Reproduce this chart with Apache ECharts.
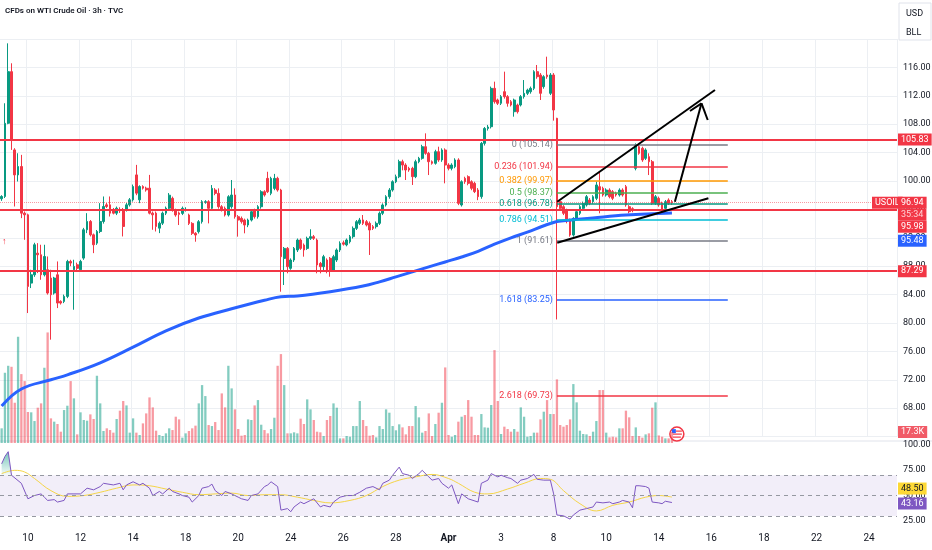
<!DOCTYPE html>
<html>
<head>
<meta charset="utf-8">
<title>USOIL 3h</title>
<script src="https://cdn.jsdelivr.net/npm/echarts@6.0.0/dist/echarts.min.js"></script>
<style>
  html, body { margin: 0; padding: 0; background: #fff; }
  #chart { width: 932px; height: 550px; }
</style>
</head>
<body>
<div id="chart"></div>
<script>
// 横轴：每根K线一个位置，刻度标签所在位置
var slotCount = 273;
var tickIdx = [8, 24, 40, 56, 72, 88, 104, 120, 136, 152, 168, 184, 200, 216, 232, 248, 264];
var tickText = ['10', '12', '14', '18', '20', '24', '26', '28', 'Apr', '3', '8', '10', '14', '16', '18', '22', '24'];

// K线 [open, close, low, high]
var candles = [
  [97.5, 97.82, 97.2, 98.0], [97.82, 108.13, 97.6, 110.95], [108.13, 115.4, 108.0, 119.39], [115.4, 105.79, 104.38, 116.58],
  [104.38, 100.86, 96.41, 104.62], [100.86, 102.04, 99.93, 103.91], [102.04, 95.47, 94.77, 103.68], [95.47, 95.24, 91.72, 95.71],
  [95.24, 85.15, 81.4, 95.4], [85.62, 86.79, 84.92, 87.5], [86.79, 91.02, 86.5, 91.3], [89.84, 89.61, 87.03, 91.25],
  [89.61, 86.79, 86.09, 91.02], [86.79, 89.37, 86.56, 91.02], [87.5, 84.22, 84.0, 89.37], [86.33, 83.98, 77.65, 87.5],
  [84.22, 86.33, 84.0, 86.5], [86.79, 82.81, 82.1, 88.67], [83.04, 82.81, 82.6, 83.2], [83.04, 83.75, 82.8, 84.0],
  [83.75, 88.67, 83.5, 88.9], [88.67, 88.44, 88.0, 88.9], [87.5, 87.97, 81.87, 88.91], [88.2, 87.7, 87.4, 88.5],
  [87.5, 88.67, 87.3, 88.9], [89.14, 93.13, 88.9, 93.4], [93.13, 94.3, 92.66, 95.47], [94.3, 92.42, 92.19, 94.5],
  [92.42, 91.02, 89.84, 92.6], [91.25, 92.89, 91.0, 93.1], [92.89, 94.3, 92.66, 96.88], [94.3, 96.41, 94.0, 97.82],
  [96.64, 96.41, 96.2, 96.9], [96.64, 95.47, 95.0, 97.82], [95.94, 95.47, 95.3, 96.2], [95.47, 96.17, 95.2, 96.4],
  [96.0, 95.8, 95.5, 96.3], [95.94, 93.6, 92.19, 96.2], [95.94, 96.64, 95.7, 96.9], [96.64, 97.35, 96.4, 97.6],
  [97.35, 99.22, 97.1, 99.5], [100.86, 98.29, 98.0, 102.27], [97.35, 99.22, 96.88, 99.4], [99.22, 98.99, 98.8, 99.4],
  [98.99, 98.75, 98.5, 99.2], [98.99, 95.47, 95.3, 100.86], [95.47, 95.24, 93.13, 95.7], [95.47, 93.6, 92.89, 95.7],
  [93.36, 94.06, 92.66, 94.3], [94.06, 95.47, 93.8, 95.7], [95.47, 96.17, 95.2, 96.4], [96.17, 98.0, 95.9, 98.3],
  [97.56, 95.91, 95.68, 97.8], [95.91, 95.21, 94.97, 96.1], [95.5, 95.3, 93.8, 95.7], [95.44, 96.15, 95.2, 96.4],
  [95.9, 96.0, 95.7, 96.3], [95.21, 94.03, 93.8, 95.4], [94.03, 92.63, 92.4, 94.2], [92.63, 92.39, 91.45, 92.8],
  [92.86, 94.27, 92.6, 94.5], [94.27, 97.09, 94.0, 97.3], [97.0, 97.09, 96.8, 97.3], [97.09, 96.15, 94.03, 97.3],
  [96.15, 98.96, 95.9, 99.43], [98.73, 98.26, 98.0, 99.0], [98.26, 96.38, 96.1, 98.96], [96.38, 95.91, 95.7, 96.6],
  [96.15, 95.21, 95.0, 96.4], [95.21, 97.79, 95.0, 98.0], [96.38, 98.03, 96.1, 100.14], [98.03, 94.97, 94.7, 98.96],
  [94.97, 94.5, 92.16, 95.2], [94.74, 94.27, 94.0, 95.0], [94.5, 93.8, 92.63, 94.7], [93.8, 94.5, 93.5, 94.7],
  [94.5, 95.68, 94.3, 95.9], [95.91, 94.97, 94.7, 96.1], [94.97, 96.38, 94.7, 96.6], [96.38, 98.49, 96.1, 98.7],
  [98.49, 98.03, 97.8, 98.7], [100.37, 98.49, 98.3, 101.3], [98.26, 100.37, 98.0, 100.6], [98.96, 100.37, 98.7, 101.0],
  [100.37, 98.73, 98.5, 100.6], [98.73, 89.34, 84.41, 98.9], [89.1, 90.51, 85.35, 90.7], [90.51, 87.93, 87.0, 90.7],
  [87.7, 88.87, 87.5, 89.1], [88.87, 90.51, 88.6, 90.7], [90.28, 91.69, 90.0, 91.9], [91.69, 90.51, 90.3, 91.9],
  [90.98, 90.28, 89.34, 91.2], [90.51, 91.92, 90.3, 92.16], [91.92, 92.16, 91.7, 93.2], [92.16, 91.92, 91.7, 92.4],
  [91.69, 88.17, 87.0, 91.9], [88.4, 87.93, 87.0, 88.6], [87.93, 89.34, 87.2, 89.6], [88.87, 87.46, 87.0, 89.1],
  [89.11, 87.46, 86.52, 89.3], [87.46, 89.34, 87.2, 89.6], [88.87, 90.28, 88.6, 90.5], [90.28, 91.22, 90.0, 91.5],
  [91.3, 91.1, 90.9, 91.6], [91.0, 91.69, 90.8, 91.9], [91.45, 92.16, 91.2, 92.4], [92.16, 93.33, 91.9, 93.6],
  [93.33, 94.27, 93.1, 94.5], [94.04, 94.51, 93.8, 94.8], [94.51, 94.04, 93.8, 95.21], [94.27, 93.8, 93.6, 94.5],
  [94.04, 93.1, 89.58, 94.3], [93.57, 93.33, 93.1, 93.8], [93.57, 94.04, 93.3, 94.3], [94.04, 95.45, 93.8, 95.7],
  [95.45, 96.62, 95.2, 96.85], [96.62, 97.79, 96.4, 98.0], [97.79, 98.73, 97.5, 99.0], [98.73, 99.9, 98.5, 100.1],
  [99.9, 100.6, 99.7, 100.9], [100.6, 102.72, 100.4, 103.0], [102.72, 102.25, 101.5, 103.0], [102.25, 101.55, 100.14, 102.5],
  [101.78, 101.55, 101.3, 102.0], [101.78, 100.61, 99.44, 102.0], [100.61, 102.72, 100.4, 103.0], [102.72, 103.19, 102.5, 103.4],
  [103.19, 104.83, 103.0, 105.1], [104.83, 103.9, 103.7, 106.71], [103.9, 102.72, 100.84, 104.1], [102.72, 102.49, 102.3, 102.9],
  [102.49, 104.13, 102.3, 104.4], [104.13, 102.96, 102.7, 104.83], [102.96, 104.37, 102.7, 104.6], [104.37, 102.25, 99.67, 104.6],
  [102.25, 101.78, 101.5, 102.5], [101.78, 102.25, 101.5, 102.5], [102.02, 102.96, 101.8, 103.2], [102.96, 96.85, 96.6, 103.2],
  [96.62, 99.9, 96.4, 100.1], [100.37, 99.9, 99.6, 100.6], [100.61, 99.67, 99.4, 100.8], [99.9, 98.97, 98.7, 100.1],
  [99.67, 98.5, 98.3, 99.9], [98.73, 97.79, 97.3, 99.0], [97.8, 105.3, 97.5, 105.5], [105.3, 107.4, 105.0, 107.6],
  [107.4, 107.6, 107.1, 107.9], [107.65, 113.05, 107.4, 113.3], [113.05, 111.17, 110.9, 113.99], [111.41, 110.94, 110.7, 111.6],
  [110.94, 111.88, 110.7, 112.1], [112.58, 111.88, 111.6, 115.4], [111.88, 110.94, 110.47, 112.1], [111.17, 110.7, 110.5, 111.4],
  [109.76, 111.41, 109.06, 111.6], [110.7, 109.76, 109.5, 110.9], [110.7, 111.88, 110.5, 112.1], [111.88, 112.35, 111.6, 114.22],
  [112.35, 112.8, 112.1, 113.0], [112.58, 113.05, 112.3, 113.3], [113.05, 115.4, 112.8, 115.6], [115.4, 114.69, 114.4, 116.34],
  [114.93, 112.35, 111.41, 115.2], [113.29, 114.69, 113.0, 114.9], [114.93, 114.69, 114.4, 117.51], [112.35, 114.93, 112.1, 115.2],
  [114.93, 110.0, 108.5, 115.2], [108.83, 96.38, 80.5, 108.9], [97.09, 96.15, 95.9, 97.3], [96.38, 95.45, 95.2, 96.6],
  [95.91, 94.51, 94.04, 96.1], [94.51, 92.39, 92.16, 94.7], [92.39, 94.74, 92.16, 94.9], [94.74, 95.68, 94.5, 95.9],
  [95.45, 96.38, 95.2, 96.6], [96.15, 96.85, 95.9, 97.1], [96.62, 97.79, 96.4, 98.03], [97.32, 96.85, 96.6, 97.6],
  [97.09, 97.79, 96.8, 98.0], [97.56, 99.44, 97.3, 99.9], [99.2, 98.73, 95.45, 101.31], [98.97, 98.03, 97.8, 99.2],
  [98.03, 98.73, 97.8, 98.97], [98.73, 97.79, 97.56, 98.97], [98.5, 97.56, 97.3, 98.73], [98.26, 98.03, 97.8, 98.5],
  [98.03, 98.73, 97.8, 98.97], [98.73, 98.03, 97.8, 98.97], [99.2, 96.62, 96.38, 99.44], [96.38, 95.68, 95.45, 96.6],
  [96.1, 95.9, 95.6, 96.3], [101.78, 105.07, 101.5, 105.3], [104.83, 103.9, 103.7, 105.3], [104.6, 102.96, 102.7, 104.83],
  [103.19, 104.37, 102.96, 104.6], [103.43, 102.72, 100.84, 103.9], [102.72, 96.85, 96.62, 102.96], [96.85, 97.79, 96.62, 98.03],
  [97.56, 96.62, 96.38, 97.8], [96.85, 95.91, 95.68, 97.09], [96.15, 97.09, 95.91, 97.32], [97.32, 96.85, 96.62, 97.56],
  [97.09, 96.94, 96.62, 97.32]
];

// 成交量（K）
var volume = [
  23.1, 110.6, 121.6, 120.0, 63.4, 167.3, 108.5, 97.5, 48.8, 48.3,
  34.6, 55.6, 62.4, 118.5, 174.1, 38.8, 33.6, 29.9, 17.8, 51.9,
  58.7, 97.5, 70.3, 13.6, 48.3, 36.2, 35.1, 45.1, 37.8, 105.9,
  62.4, 18.9, 23.1, 20.4, 16.3, 37.8, 50.9, 66.1, 59.2, 16.3,
  38.8, 16.3, 12.6, 30.9, 46.6, 71.8, 56.1, 19.4, 12.6, 11.0,
  15.2, 23.1, 20.4, 41.4, 37.2, 8.4, 15.2, 18.9, 23.1, 27.3,
  62.4, 91.2, 73.9, 28.3, 26.7, 33.0, 20.4, 78.1, 56.1, 121.6,
  86.0, 53.0, 22.0, 11.5, 12.6, 37.2, 36.2, 59.2, 67.6, 28.8,
  20.4, 15.2, 22.0, 39.8, 121.6, 140.0, 91.2, 15.2, 15.2, 16.8,
  15.2, 38.3, 29.9, 68.7, 53.0, 36.2, 17.8, 16.8, 11.0, 36.2,
  42.5, 62.4, 55.6, 7.3, 7.3, 11.0, 9.9, 26.7, 26.7, 66.1,
  36.2, 26.7, 11.5, 12.6, 8.9, 26.7, 22.0, 53.0, 47.7, 26.7,
  20.0, 29.4, 24.6, 13.6, 26.7, 26.7, 58.2, 40.4, 16.3, 18.9,
  46.6, 11.0, 29.9, 47.7, 63.4, 119.0, 12.6, 9.9, 12.6, 33.6,
  41.4, 44.0, 67.6, 41.4, 12.6, 12.6, 45.6, 24.6, 24.1, 59.8,
  146.3, 66.1, 14.2, 25.7, 22.0, 17.8, 22.0, 17.8, 56.1, 41.4,
  9.9, 11.0, 16.3, 16.3, 37.2, 49.3, 67.6, 45.6, 45.6, 100.2,
  28.3, 25.7, 28.3, 37.2, 92.8, 64.0, 19.4, 14.2, 13.6, 11.0,
  17.8, 34.6, 83.4, 83.4, 16.3, 8.9, 9.9, 8.9, 23.1, 23.1,
  50.9, 40.4, 11.0, 24.6, 11.0, 8.4, 13.6, 15.2, 55.6, 64.0,
  11.9, 9.9, 7.3, 7.3, 17.3
];

// 均线 [K线位置, 价格]
var maPts = [
  [0, 68.3], [6, 70.7], [15, 72.0], [20, 72.7], [30, 74.4], [40, 76.6], [50, 78.9], [60, 80.7],
  [70, 82.0], [80, 83.2], [85, 83.7], [90, 83.8], [100, 84.4], [110, 85.2], [115, 85.8], [120, 86.5],
  [125, 87.2], [130, 87.9], [135, 88.6], [140, 89.3], [145, 90.1], [150, 91.1], [155, 92.0], [160, 92.8],
  [165, 93.7], [169, 94.3], [171, 94.4], [180, 94.8], [190, 95.2], [204, 95.48]
];

// RSI [K线位置, 值]
var rsiPts = [
  [0, 81.1], [1, 88.3], [2, 93.0], [3, 69.9], [6, 62.0], [8, 46.8], [10, 50.0], [12, 51.6], [13, 48.4], [14, 45.2],
  [16, 46.0], [17, 43.6], [19, 45.2], [20, 51.6], [22, 51.6], [24, 51.6], [26, 57.2], [28, 55.6], [30, 58.8], [31, 62.0],
  [34, 60.4], [36, 62.0], [37, 55.6], [38, 60.4], [40, 63.5], [42, 60.4], [43, 62.0], [45, 57.2], [46, 50.0], [48, 54.0],
  [49, 51.6], [51, 57.2], [52, 54.0], [54, 51.6], [55, 50.0], [57, 48.4], [58, 43.6], [60, 50.0], [61, 57.2], [63, 58.8],
  [64, 61.2], [65, 54.8], [67, 50.0], [68, 54.0], [70, 51.6], [72, 48.4], [73, 46.8], [75, 45.2], [76, 50.0], [78, 51.6],
  [80, 58.8], [81, 60.4], [82, 63.5], [84, 58.8], [85, 35.7], [87, 37.2], [88, 34.1], [89, 38.8], [91, 43.6], [92, 42.0],
  [94, 45.2], [95, 46.8], [97, 38.8], [98, 40.4], [100, 38.8], [101, 43.6], [103, 48.4], [105, 50.0], [107, 50.0], [109, 53.2],
  [111, 57.2], [113, 58.8], [115, 55.6], [116, 62.0], [118, 65.1], [119, 69.9], [121, 77.9], [122, 71.5], [124, 69.9], [125, 66.7],
  [127, 71.5], [128, 74.7], [130, 68.3], [131, 65.1], [133, 66.7], [134, 62.0], [136, 57.2], [137, 60.4], [139, 42.0], [140, 51.6],
  [142, 46.8], [145, 43.6], [146, 62.0], [148, 65.1], [149, 71.5], [151, 68.3], [152, 69.9], [154, 67.5], [155, 66.7], [157, 62.0],
  [158, 65.1], [160, 66.7], [162, 70.7], [163, 65.9], [165, 65.1], [167, 65.1], [168, 51.6], [169, 30.9], [171, 30.1], [173, 26.9],
  [174, 30.9], [176, 35.7], [178, 37.2], [180, 38.8], [181, 43.6], [183, 42.8], [185, 43.6], [186, 42.0], [188, 43.6], [189, 45.2],
  [191, 43.6], [192, 38.0], [193, 59.6], [194, 59.6], [196, 58.8], [197, 57.2], [198, 43.6], [200, 42.8], [201, 42.0], [202, 44.4],
  [204, 43.16]
];

// RSI 均线
var rsiMaPts = [
  [0, 71.5], [4, 74.7], [7, 73.1], [10, 66.7], [15, 54.8], [20, 49.2], [25, 50.0], [30, 53.2], [35, 57.2], [40, 60.4],
  [45, 59.6], [50, 56.4], [55, 53.2], [60, 50.8], [65, 51.6], [70, 52.4], [75, 50.0], [80, 50.8], [85, 50.8], [90, 48.4],
  [95, 45.2], [100, 42.8], [106, 45.2], [111, 50.0], [116, 58.8], [121, 65.1], [126, 68.3], [131, 70.7], [136, 66.7], [139, 62.0],
  [144, 53.2], [148, 51.6], [154, 56.4], [159, 62.0], [164, 66.7], [167, 65.9], [171, 54.8], [176, 42.0], [181, 34.9], [186, 40.4],
  [191, 43.6], [196, 48.4], [200, 50.0], [204, 48.5]
];

// 水平支撑/阻力线
var levels = [105.83, 95.98, 87.29];
var lastPrice = 96.94;
var lastVolume = 17.3;
var maLast = 95.48;
var rsiLast = 43.16;
var rsiMaLast = 48.50;

// 斐波那契回撤
var fibRatio = [0, 0.236, 0.382, 0.5, 0.618, 0.786, 1, 1.618, 2.618];
var fibPrice = [105.14, 101.94, 99.97, 98.37, 96.78, 94.51, 91.61, 83.25, 69.73];
var fibColor = ['#787b86', '#f23645', '#ff9800', '#4caf50', '#089981', '#00bcd4', '#787b86', '#2962ff', '#f23645'];
var fibSpan = [169, 221];

// 趋势线与箭头 [[x1, y1], [x2, y2]]
var trendLines = [
  [[169.1, 97.08], [217.1, 112.82]],
  [[169.1, 91.31], [215.1, 97.56]],
  [[204.9, 97.08], [213.0, 110.94]],
  [[209.5, 109.86], [213.0, 110.94]],
  [[214.9, 108.59], [213.0, 110.94]]
];

(function () {
  var up = '#089981';
  var down = '#f23645';
  var grey = '#eceff3';

  var cats = [];
  for (var i = 0; i < slotCount; i++) cats.push(String(i));
  var tickMap = {};
  tickIdx.forEach(function (t, k) { tickMap[t] = tickText[k]; });
  var isTick = function (index) { return tickMap[index] !== undefined; };

  // 成交量颜色跟随K线涨跌
  var volData = volume.map(function (v, i) {
    var c = candles[i];
    return {
      value: v,
      itemStyle: { color: c[1] >= c[0] ? 'rgba(8,153,129,0.5)' : 'rgba(242,54,69,0.5)' }
    };
  });

  var levelLines = levels.map(function (v) {
    return { yAxis: v, lineStyle: { color: '#f23645', width: 2, type: 'solid' } };
  });
  levelLines.push({ yAxis: lastPrice, lineStyle: { color: '#f23645', width: 1, type: 'dotted', opacity: 0.5 } });

  var fibLines = fibRatio.map(function (r, k) {
    return [
      {
        coord: [fibSpan[0], fibPrice[k]],
        name: r + ' (' + fibPrice[k].toFixed(2) + ')',
        lineStyle: { color: fibColor[k], width: 1.5, type: 'solid' },
        label: { show: true, position: 'start', formatter: '{b}', color: fibColor[k], fontSize: 9, distance: 4 }
      },
      { coord: [fibSpan[1], fibPrice[k]] }
    ];
  });

  var drawLines = trendLines.map(function (seg) {
    return [
      { coord: seg[0], lineStyle: { color: '#000', width: 2, type: 'solid' }, label: { show: false } },
      { coord: seg[1] }
    ];
  });

  var gridBase = { left: 0, right: 35, outerBoundsMode: 'none', containLabel: false };

  var option = {
    animation: false,
    backgroundColor: '#fff',
    textStyle: { fontFamily: 'Roboto, sans-serif' },
    grid: [
      Object.assign({ top: 39, height: 397.6 }, gridBase),
      Object.assign({ top: 316, height: 127 }, gridBase),
      Object.assign({ top: 441, height: 105.5 }, gridBase),
      Object.assign({ top: 528, height: 2 }, gridBase)
    ],
    xAxis: [
      {
        gridIndex: 0, type: 'category', data: cats, boundaryGap: true,
        axisLine: { show: false }, axisTick: { show: false }, axisLabel: { show: false },
        splitLine: { show: true, interval: isTick, lineStyle: { color: grey, width: 1 } }
      },
      { gridIndex: 0, type: 'value', min: -0.5, max: slotCount - 0.5, show: false },
      { gridIndex: 1, type: 'category', data: cats, boundaryGap: true, show: false },
      { gridIndex: 2, type: 'value', min: -0.5, max: slotCount - 0.5, show: false },
      {
        gridIndex: 3, type: 'category', data: cats, boundaryGap: true,
        axisLine: { show: false }, axisTick: { show: false },
        axisLabel: {
          interval: isTick, margin: 3, color: '#131722', fontSize: 10,
          formatter: function (value) {
            var t = tickMap[+value];
            return t === 'Apr' ? '{b|Apr}' : t;
          },
          rich: { b: { fontWeight: 'bold', fontSize: 10, color: '#131722' } }
        }
      }
    ],
    yAxis: [
      {
        gridIndex: 0, type: 'value', position: 'right', min: 64, max: 120, interval: 4,
        axisLine: { show: false }, axisTick: { show: false },
        axisLabel: {
          margin: 6, color: '#131722', fontSize: 9,
          formatter: function (v) { return (v < 66 || v > 118) ? '' : v.toFixed(2); }
        },
        splitLine: { show: true, lineStyle: { color: grey, width: 1 } }
      },
      { gridIndex: 1, type: 'value', min: 0, max: 200, show: false },
      {
        gridIndex: 2, type: 'value', position: 'right', min: 0, max: 103.5, interval: 25,
        axisLine: { show: false }, axisTick: { show: false }, splitLine: { show: false },
        axisLabel: {
          margin: 6, color: '#131722', fontSize: 9,
          formatter: function (v) { return v < 20 ? '' : v.toFixed(2); }
        }
      },
      { gridIndex: 3, type: 'value', show: false }
    ],
    series: [
      {
        name: 'USOIL', type: 'candlestick', xAxisIndex: 0, yAxisIndex: 0,
        data: candles, barWidth: 2.3,
        itemStyle: { color: up, color0: down, borderColor: up, borderColor0: down, borderWidth: 1 },
        markLine: { silent: true, symbol: ['none', 'none'], label: { show: false }, data: levelLines, z: 5 }
      },
      {
        name: 'MA', type: 'line', xAxisIndex: 1, yAxisIndex: 0, data: maPts,
        smooth: 0.4, showSymbol: false, symbol: 'none',
        lineStyle: { color: '#2962ff', width: 3 }, z: 3
      },
      {
        name: 'drawings', type: 'line', xAxisIndex: 1, yAxisIndex: 0,
        data: [[fibSpan[0], fibPrice[0]]], symbol: 'none', lineStyle: { opacity: 0 }, z: 6,
        markLine: { silent: true, symbol: ['none', 'none'], data: fibLines.concat(drawLines) }
      },
      {
        name: 'Volume', type: 'bar', xAxisIndex: 2, yAxisIndex: 1,
        data: volData, barWidth: 2.3
      },
      {
        name: 'RSI', type: 'line', xAxisIndex: 3, yAxisIndex: 2, data: rsiPts,
        symbol: 'none', lineStyle: { color: '#7e57c2', width: 1 }, z: 4,
        markArea: { silent: true, itemStyle: { color: 'rgba(126,87,194,0.1)' }, data: [[{ yAxis: 30 }, { yAxis: 70 }]] },
        markLine: {
          silent: true, symbol: ['none', 'none'], label: { show: false },
          lineStyle: { color: '#9598a1', type: [4, 4], width: 1 },
          data: [{ yAxis: 70 }, { yAxis: 50 }, { yAxis: 30 }]
        }
      },
      {
        name: 'RSI overbought', type: 'line', xAxisIndex: 3, yAxisIndex: 2, data: rsiPts.slice(0, 4),
        symbol: 'none', lineStyle: { opacity: 0 },
        areaStyle: {
          origin: 70,
          color: new echarts.graphic.LinearGradient(0, 0, 0, 1, [
            { offset: 0, color: 'rgba(8,153,129,0.8)' },
            { offset: 1, color: 'rgba(8,153,129,0.05)' }
          ])
        }
      },
      {
        name: 'RSI MA', type: 'line', xAxisIndex: 3, yAxisIndex: 2, data: rsiMaPts,
        smooth: 0.4, symbol: 'none', lineStyle: { color: '#f5d547', width: 1 }, z: 3
      },
      { name: 'axis', type: 'line', xAxisIndex: 4, yAxisIndex: 3, data: [] }
    ]
  };

  var myChart = echarts.init(document.getElementById('chart'));
  myChart.setOption(option);

  // 价格轴上的标签
  var py = function (v) { return myChart.convertToPixel({ yAxisIndex: 0 }, v); };
  var tag = function (text, y, bg, fg, x) {
    return {
      type: 'text', z: 100, x: x === undefined ? 898 : x, y: y,
      style: {
        text: text, fill: fg || '#fff', backgroundColor: bg,
        padding: [2, 3, 1, 3], font: '9px Roboto', verticalAlign: 'middle', align: 'left'
      }
    };
  };
  var pLast = py(lastPrice);
  var flagX = myChart.convertToPixel({ xAxisIndex: 1 }, 205.5);
  var flagY = myChart.convertToPixel({ yAxisIndex: 1 }, 14);

  myChart.setOption({
    graphic: [
      { type: 'text', x: 5, y: 7, style: { text: 'CFDs on WTI Crude Oil · 3h · TVC', font: '600 8px Roboto', fill: '#131722' } },
      { type: 'rect', shape: { x: 899, y: 3, width: 32, height: 37 }, style: { fill: '#fff', stroke: '#e0e3eb', lineWidth: 1 } },
      { type: 'text', x: 906, y: 9, style: { text: 'USD', font: '9px Roboto', fill: '#131722' } },
      { type: 'text', x: 906, y: 28, style: { text: 'BLL', font: '9px Roboto', fill: '#131722' } },
      { type: 'line', shape: { x1: 0, y1: 441, x2: 932, y2: 441 }, style: { stroke: '#e0e3eb', lineWidth: 1 } },
      { type: 'text', x: 2, y: 237, style: { text: '↑', font: '9px Roboto', fill: '#f23645' } },
      tag(levels[0].toFixed(2), py(levels[0]), '#f23645'),
      tag(levels[2].toFixed(2), py(levels[2]), '#f23645'),
      tag('USOIL', pLast, '#f23645', '#fff', 872),
      tag(lastPrice.toFixed(2), pLast, '#f23645'),
      tag('35:34', pLast + 12, '#f23645', '#ffd1d5'),
      tag(levels[1].toFixed(2), pLast + 24, '#f23645'),
      tag(maLast.toFixed(2), pLast + 38, '#2962ff'),
      tag(lastVolume.toFixed(1) + 'K', myChart.convertToPixel({ yAxisIndex: 1 }, lastVolume), '#f15b67'),
      tag(rsiMaLast.toFixed(2), myChart.convertToPixel({ yAxisIndex: 2 }, 50) - 7, '#fdd835', '#131722'),
      tag(rsiLast.toFixed(2), myChart.convertToPixel({ yAxisIndex: 2 }, rsiLast) + 1, '#7e57c2'),
      {
        type: 'group', x: flagX, y: flagY, z: 100,
        children: [
          { type: 'circle', shape: { cx: 0, cy: 0, r: 7 }, style: { fill: '#fff', stroke: '#f23645', lineWidth: 1.5 } },
          { type: 'line', shape: { x1: -4, y1: 0, x2: 5, y2: 0 }, style: { stroke: '#f23645', lineWidth: 1.2 } },
          { type: 'line', shape: { x1: -4, y1: 3, x2: 4, y2: 3 }, style: { stroke: '#f23645', lineWidth: 1.2 } },
          { type: 'line', shape: { x1: -1, y1: -3, x2: 5, y2: -3 }, style: { stroke: '#f23645', lineWidth: 1.2 } },
          { type: 'rect', shape: { x: -5, y: -5, width: 4, height: 4 }, style: { fill: '#2962ff' } }
        ]
      }
    ]
  });
})();
</script>
</body>
</html>
